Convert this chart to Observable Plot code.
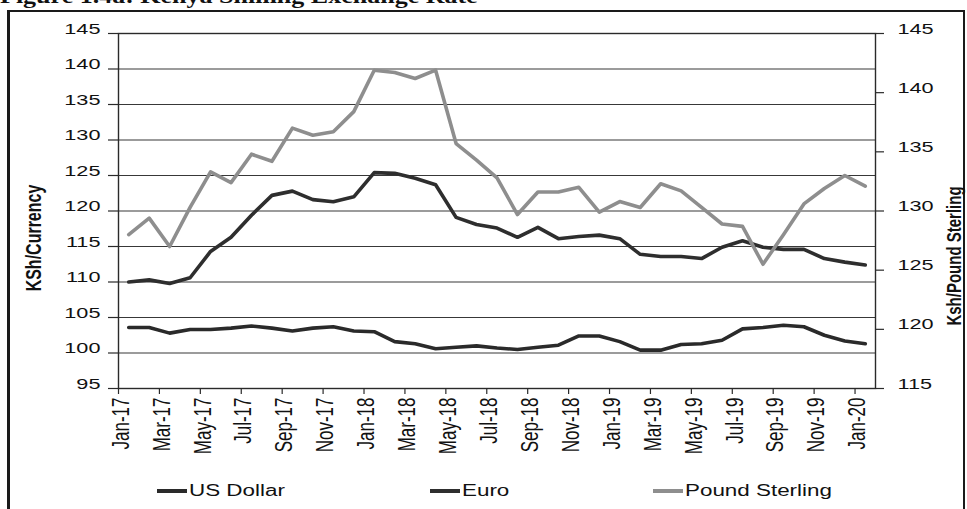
<!DOCTYPE html>
<html><head><meta charset="utf-8">
<script src="https://cdn.jsdelivr.net/npm/d3@7"></script>
<script src="https://cdn.jsdelivr.net/npm/@observablehq/plot@0.6"></script>
<style>
html,body{margin:0;padding:0;background:#fff;width:967px;height:509px;overflow:hidden;font-family:"Liberation Sans",Arial,sans-serif;color:#111;}
#wrap{position:relative;width:967px;height:509px;overflow:hidden;}
#title{position:absolute;left:0px;top:-14px;font:bold 20px/20px "Liberation Serif","Times New Roman",serif;white-space:nowrap;transform:scaleX(1.3);transform-origin:0 0;color:#111;}
#box{position:absolute;left:7px;top:10px;width:958px;height:540px;border:2px solid #1a1a1a;border-left-width:3px;box-sizing:border-box;}
#chart{position:absolute;left:0;top:0;}
.atitle{position:absolute;white-space:nowrap;font-weight:bold;transform-origin:0 0;color:#111;}
.leg{position:absolute;}
.sw{position:absolute;height:4px;width:30px;}
.lt{position:absolute;white-space:nowrap;font-size:16px;line-height:16px;transform:scaleX(1.4);transform-origin:0 50%;color:#111;}
</style></head>
<body><div id="wrap">
<div id="box"></div>
<div id="chart"></div>
<div id="title">Figure 1.4a: Kenya Shilling Exchange Rate</div>
</div>
<script>
const months = ["Jan-17","Feb-17","Mar-17","Apr-17","May-17","Jun-17","Jul-17","Aug-17","Sep-17","Oct-17","Nov-17","Dec-17",
"Jan-18","Feb-18","Mar-18","Apr-18","May-18","Jun-18","Jul-18","Aug-18","Sep-18","Oct-18","Nov-18","Dec-18",
"Jan-19","Feb-19","Mar-19","Apr-19","May-19","Jun-19","Jul-19","Aug-19","Sep-19","Oct-19","Nov-19","Dec-19","Jan-20"];

const usDollar = [103.6,103.6,102.8,103.3,103.3,103.5,103.8,103.5,103.1,103.5,103.7,103.1,
103.0,101.6,101.3,100.6,100.8,101.0,100.7,100.5,100.8,101.1,102.4,102.4,
101.6,100.4,100.4,101.2,101.3,101.8,103.4,103.6,103.9,103.7,102.5,101.7,101.3];

const euro = [110.0,110.3,109.8,110.6,114.3,116.3,119.4,122.2,122.8,121.6,121.3,122.0,
125.4,125.3,124.6,123.7,119.1,118.1,117.6,116.3,117.7,116.1,116.4,116.6,
116.1,113.9,113.6,113.6,113.3,114.9,115.8,114.9,114.6,114.6,113.3,112.8,112.4];

const poundSterling = [128.0,129.4,127.0,130.3,133.3,132.4,134.8,134.2,137.0,136.4,136.7,138.4,
141.9,141.7,141.2,141.9,135.7,134.3,132.8,129.7,131.6,131.6,132.0,129.9,
130.8,130.3,132.3,131.7,130.3,128.9,128.7,125.5,128.0,130.6,131.9,133.0,132.1];

const leftTicks = [95,100,105,110,115,120,125,130,135,140,145];
const rightTicks = [115,120,125,130,135,140,145];
const leftDomain = [95,145];
const rightDomain = [115,145];

const seriesNames = ["US Dollar","Euro","Pound Sterling"];
const seriesColors = ["#2a2a2a","#2e2e2e","#8e8e8e"];
const axisTitles = {left:"KSh/Currency", right:"Ksh/Pound Sterling"};

// map right-axis values onto the left scale
const toLeft = v => leftDomain[0] + (v - rightDomain[0]) * (leftDomain[1]-leftDomain[0])/(rightDomain[1]-rightDomain[0]);
const fromLeft = v => rightDomain[0] + (v - leftDomain[0]) * (rightDomain[1]-rightDomain[0])/(leftDomain[1]-leftDomain[0]);

const idx = months.map((m,i)=>i);
const boundaryTicks = d3.range(0, months.length, 2);
const labelTicks = boundaryTicks.map(i => i + 0.5);

const chart = Plot.plot({
  width: 967, height: 460,
  marginLeft: 118, marginRight: 92, marginTop: 33, marginBottom: 72,
  style: {fontFamily:"'Liberation Sans', Arial, sans-serif", fontSize:"16px", color:"#111", background:"transparent", overflow:"visible"},
  x: {domain:[0, months.length], axis:null},
  y: {domain:leftDomain, axis:null},
  marks: [
    Plot.gridY(leftTicks, {stroke:"#383838", strokeOpacity:1, strokeWidth:1.2}),
    Plot.frame({stroke:"#2a2a2a", strokeWidth:1.4}),
    Plot.axisY(leftTicks, {anchor:"left", tickSize:10, tickPadding:8, fontSize:15.5, label:null, stroke:"#2a2a2a", strokeWidth:1.2}),
    Plot.axisY(rightTicks.map(toLeft), {anchor:"right", tickSize:8, tickPadding:14, fontSize:15.5, label:null, tickFormat: d => String(Math.round(fromLeft(d))), stroke:"#2a2a2a", strokeWidth:1.2}),
    Plot.axisX(boundaryTicks, {anchor:"bottom", tickSize:6, tickFormat: () => "", label:null, stroke:"#2a2a2a", strokeWidth:1.2}),
    Plot.axisX(labelTicks, {anchor:"bottom", tickSize:0, tickPadding:9, tickRotate:-90, fontSize:17, label:null, tickFormat: d => months[Math.floor(d)]}),
    Plot.lineY(usDollar, {x:(d,i)=>i+0.5, y:d=>d, stroke:seriesColors[0], strokeWidth:3.6}),
    Plot.lineY(euro, {x:(d,i)=>i+0.5, y:d=>d, stroke:seriesColors[1], strokeWidth:3.6}),
    Plot.lineY(poundSterling, {x:(d,i)=>i+0.5, y:d=>toLeft(d), stroke:seriesColors[2], strokeWidth:3.6})
  ]
});

// horizontal stretch of glyphs, as in the reference scan
function stretch(svg, s){
  svg.querySelectorAll("text").forEach(t => {
    let tr = t.getAttribute("transform") || "";
    const x = t.getAttribute("x"), y = t.getAttribute("y");
    if (x != null || y != null) {
      tr += ` translate(${+x||0},${+y||0})`;
      t.removeAttribute("x"); t.removeAttribute("y");
    }
    if (/rotate\(/.test(tr)) tr = tr.replace(/rotate\(/, `scale(${s},1) rotate(`);
    else tr += ` scale(${s},1)`;
    t.setAttribute("transform", tr.trim());
  });
}
stretch(chart, 1.4);
document.getElementById("chart").appendChild(chart);

const wrap = document.getElementById("wrap");
function addTitle(text, cx, cy, size){
  const d = document.createElement("div");
  d.className = "atitle";
  d.textContent = text;
  d.style.fontSize = size + "px";
  d.style.lineHeight = size + "px";
  d.style.left = cx + "px"; d.style.top = cy + "px";
  d.style.transform = "scale(1.4,1) rotate(-90deg) translate(-50%,-50%)";
  wrap.appendChild(d);
}
addTitle(axisTitles.left, 34, 238, 16);
addTitle(axisTitles.right, 953, 256, 15);

const legendPos = [157, 430, 653];
seriesNames.forEach((name, i) => {
  const sw = document.createElement("div");
  sw.className = "sw";
  sw.style.left = legendPos[i] + "px"; sw.style.top = "489px";
  sw.style.background = seriesColors[i];
  wrap.appendChild(sw);
  const t = document.createElement("div");
  t.className = "lt";
  t.textContent = name;
  t.style.left = (legendPos[i] + 32) + "px"; t.style.top = "483px";
  wrap.appendChild(t);
});
</script>
</body></html>
